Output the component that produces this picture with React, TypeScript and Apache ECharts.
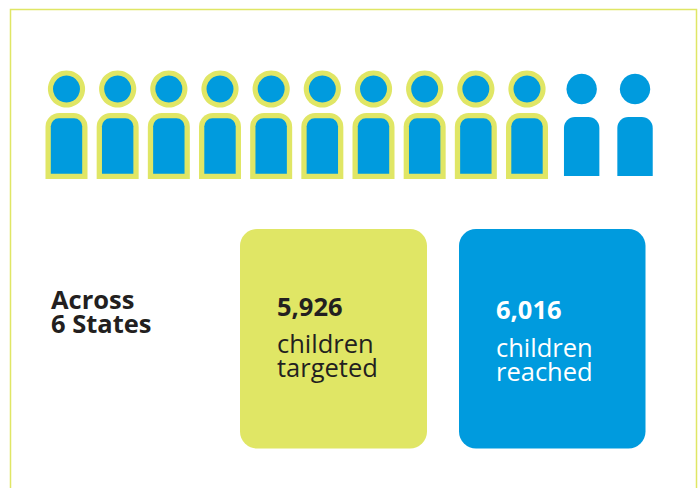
import React, { useEffect, useRef } from "react";
import * as echarts from "echarts";

const people = [0, 1, 2, 3, 4, 5, 6, 7, 8, 9, 10, 11];
const targetedFlags = [1, 1, 1, 1, 1, 1, 1, 1, 1, 1, 0, 0];
const regionLines = ["Across", "6 States"];
const targetedValue = "5,926";
const targetedLines = ["children", "targeted"];
const reachedValue = "6,016";
const reachedLines = ["children", "reached"];

const YELLOW = "#e0e665";
const BLUE = "#009bde";
const DARK = "#231f20";
const FONT = '"Open Sans", sans-serif';

const txt = (x: number, y: number, text: string, size: number, weight: string, fill: string) => ({
  type: "text",
  x,
  y,
  style: {
    text,
    fill,
    font: `${weight} ${size}px ${FONT}`,
    lineHeight: 23,
    textAlign: "left",
    textVerticalAlign: "middle",
  },
});

export default function App() {
  const ref = useRef<HTMLDivElement>(null);
  useEffect(() => {
    document.body.style.margin = "0";
    const chart = echarts.init(ref.current!, null, { renderer: "svg" });
    chart.setOption({
      animation: false,
      backgroundColor: "#ffffff",
      grid: { left: 66.5, width: 460.5, top: 89, height: 54 },
      xAxis: { type: "value", min: 0, max: 9, show: false },
      yAxis: { type: "value", min: 0, max: 1, show: false },
      graphic: [
        { type: "polyline", shape: { points: [[10.5, 490], [10.5, 9.5], [696.5, 9.5], [696.5, 490]] }, style: { fill: "none", stroke: YELLOW, lineWidth: 1.5 } },
        { type: "rect", shape: { x: 240, y: 229, width: 187, height: 219.5, r: 17 }, style: { fill: YELLOW } },
        { type: "rect", shape: { x: 459, y: 229, width: 186.5, height: 219.5, r: 17 }, style: { fill: BLUE } },
        txt(51, 299, regionLines[0], 25.5, "700", DARK),
        txt(51, 323, regionLines[1], 25.5, "700", DARK),
        txt(277, 305.5, targetedValue, 25.5, "700", DARK),
        txt(277, 342.5, targetedLines[0], 25.5, "400", DARK),
        txt(277, 366.5, targetedLines[1], 25.5, "400", DARK),
        txt(496, 309, reachedValue, 25.5, "700", "#ffffff"),
        txt(496, 346.5, reachedLines[0], 25.5, "400", "#ffffff"),
        txt(496, 370.5, reachedLines[1], 25.5, "400", "#ffffff"),
      ],
      series: [
        {
          type: "custom",
          coordinateSystem: "cartesian2d",
          clip: false,
          silent: true,
          data: people.map((p, i) => [p, 1, targetedFlags[i]]),
          renderItem: (_params: any, api: any) => {
            const i = api.value(0);
            const flag = api.value(2);
            const [x0, headY] = api.coord([i, 1]);
            if (flag) {
              return {
                type: "group",
                children: [
                  { type: "circle", shape: { cx: x0, cy: headY, r: 18.6 }, style: { fill: YELLOW } },
                  { type: "circle", shape: { cx: x0, cy: headY, r: 13.5 }, style: { fill: BLUE } },
                  { type: "rect", shape: { x: x0 - 21, y: headY + 24, width: 42, height: 66, r: [14, 14, 0, 0] }, style: { fill: YELLOW } },
                  { type: "rect", shape: { x: x0 - 15.7, y: headY + 29.3, width: 31.4, height: 55.5, r: [8, 8, 0, 0] }, style: { fill: BLUE } },
                ],
              };
            }
            const cx = x0 + (i === 10 ? 3.5 : 5.7);
            return {
              type: "group",
              children: [
                { type: "circle", shape: { cx, cy: headY, r: 15.2 }, style: { fill: BLUE } },
                { type: "rect", shape: { x: cx - 17.7, y: headY + 28, width: 35.4, height: 59, r: [11, 11, 0, 0] }, style: { fill: BLUE } },
              ],
            };
          },
        },
      ],
    });
    return () => chart.dispose();
  }, []);
  return <div ref={ref} style={{ position: "fixed", left: 0, top: 0, width: 699, height: 488 }} />;
}
